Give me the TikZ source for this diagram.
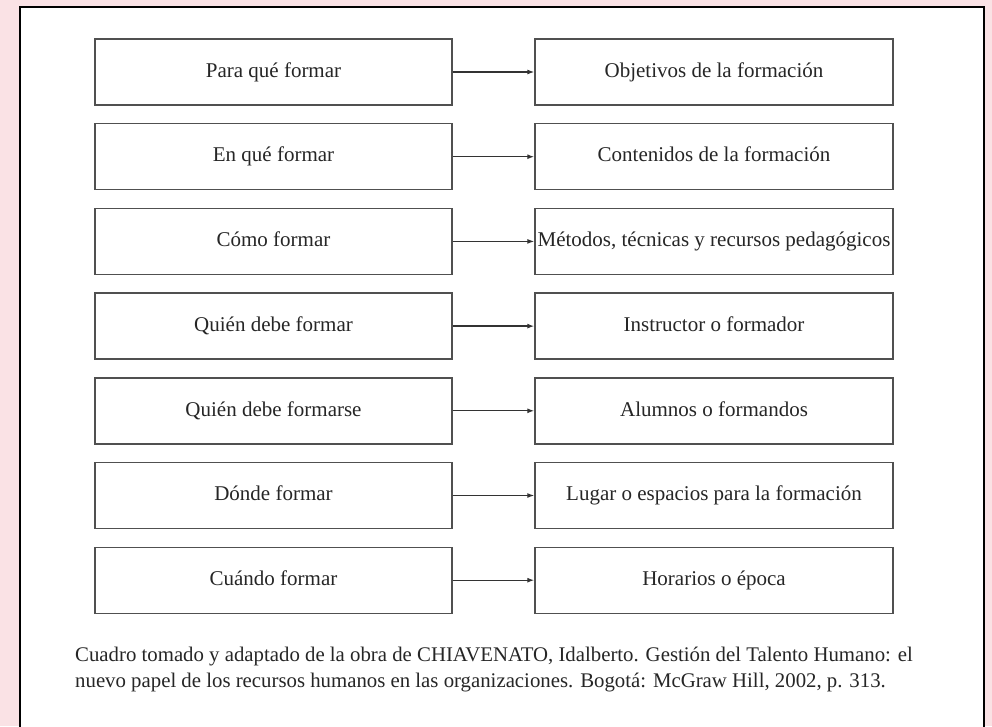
\documentclass[tikz,border=0pt]{standalone}
\usepackage{fontspec}
\setmainfont{Liberation Serif}
\usepackage{tikz}
\usetikzlibrary{arrows.meta, positioning}
\usepackage{xcolor}
\definecolor{pinkbg}{RGB}{250,226,229}
\definecolor{boxline}{RGB}{80,80,80}

\begin{document}
\begin{tikzpicture}[
            x=1pt, y=1pt,
            node distance=17.3pt and 81.6pt,
            leftbox/.style={ rectangle, draw=boxline, line width=1.4pt, minimum width=357pt, minimum height=66pt, inner sep=0pt, text height=14.5pt, text depth=4pt, align=center, font=\fontsize{21}{25}\selectfont, text=black!85 },
            rightbox/.style={ leftbox, minimum width=358pt },
            arrow/.style={ -{Latex[length=7pt, width=5pt]}, line width=1.3pt, draw=black!80 }
        ]
            % Page
            \fill[pinkbg] (0,0) rectangle (992,-726);
            \useasboundingbox (0,0) rectangle (992,-726);
            \draw[fill=white, line width=2pt] (20,-7) rectangle (984,-740);

            % Question nodes
            \node (para) [leftbox] at (273.5,-72) {Para qué formar};
            \node (enque) [leftbox, below=of para] {En qué formar};
            \node (como) [leftbox, below=of enque] {Cómo formar};
            \node (quiendebe) [leftbox, below=of como] {Quién debe formar};
            \node (quienforma) [leftbox, below=of quiendebe] {Quién debe formarse};
            \node (donde) [leftbox, below=of quienforma] {Dónde formar};
            \node (cuando) [leftbox, below=of donde] {Cuándo formar};

            % Answer nodes
            \node (objetivos) [rightbox, right=of para] {Objetivos de la formación};
            \node (contenidos) [rightbox, right=of enque] {Contenidos de la formación};
            \node (metodos) [rightbox, right=of como] {Métodos, técnicas y recursos pedagógicos};
            \node (instructor) [rightbox, right=of quiendebe] {Instructor o formador};
            \node (alumnos) [rightbox, right=of quienforma] {Alumnos o formandos};
            \node (lugar) [rightbox, right=of donde] {Lugar o espacios para la formación};
            \node (horarios) [rightbox, right=of cuando] {Horarios o época};

            % Arrows
            \draw[arrow] (para) -- (objetivos);
            \draw[arrow] (enque) -- (contenidos);
            \draw[arrow] (como) -- (metodos);
            \draw[arrow] (quiendebe) -- (instructor);
            \draw[arrow] (quienforma) -- (alumnos);
            \draw[arrow] (donde) -- (lugar);
            \draw[arrow] (cuando) -- (horarios);

            % Source
            \node (fuente) [anchor=west, inner sep=0pt, align=left, font=\fontsize{20.8}{26}\selectfont, text=black!85] at (75,-669) {Cuadro tomado y adaptado de la obra de CHIAVENATO, Idalberto. Gestión del Talento Humano: el\\nuevo papel de los recursos humanos en las organizaciones. Bogotá: McGraw Hill, 2002, p. 313.};

        \end{tikzpicture}
\end{document}
